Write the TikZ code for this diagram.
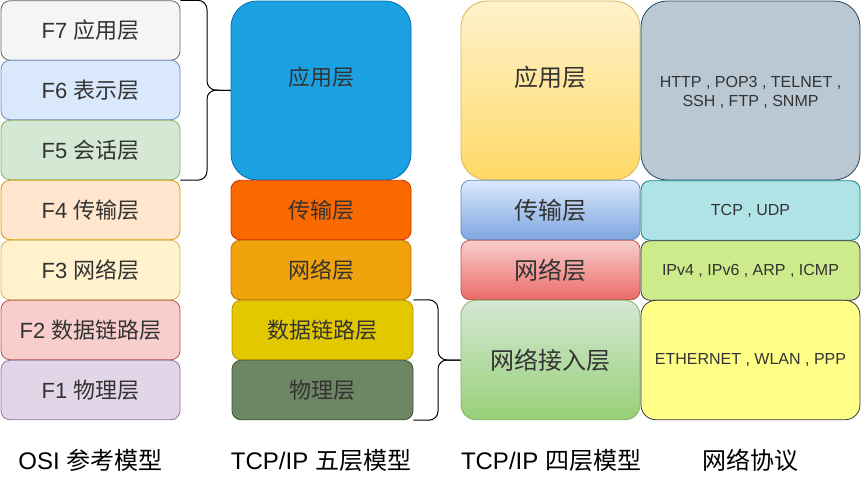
\documentclass[tikz,border=0pt]{standalone}
\usepackage{fontspec}
\setmainfont{Liberation Sans}
\newfontfamily\cjk{Noto Sans CJK SC}
\definecolor{txt}{HTML}{333333}
\definecolor{cF7}{HTML}{F5F5F5}\definecolor{sF7}{HTML}{666666}
\definecolor{cF6}{HTML}{DAE8FC}\definecolor{sF6}{HTML}{6C8EBF}
\definecolor{cF5}{HTML}{D5E8D4}\definecolor{sF5}{HTML}{82B366}
\definecolor{cF4}{HTML}{FFE6CC}\definecolor{sF4}{HTML}{D79B00}
\definecolor{cF3}{HTML}{FFF2CC}\definecolor{sF3}{HTML}{D6B656}
\definecolor{cF2}{HTML}{F8CECC}\definecolor{sF2}{HTML}{B85450}
\definecolor{cF1}{HTML}{E1D5E7}\definecolor{sF1}{HTML}{9673A6}
\definecolor{cA5}{HTML}{1BA1E2}\definecolor{sA5}{HTML}{006EAF}
\definecolor{cT5}{HTML}{FA6800}\definecolor{sT5}{HTML}{C73500}
\definecolor{cN5}{HTML}{F0A30A}\definecolor{sN5}{HTML}{BD7000}
\definecolor{cD5}{HTML}{E3C800}\definecolor{sD5}{HTML}{B09500}
\definecolor{cP5}{HTML}{6D8764}\definecolor{sP5}{HTML}{3A5431}
\definecolor{gA4}{HTML}{FFD966}
\definecolor{gT4}{HTML}{7EA6E0}
\definecolor{gN4}{HTML}{EA6B66}
\definecolor{gL4}{HTML}{97D077}
\definecolor{cAp}{HTML}{BAC8D3}\definecolor{sAp}{HTML}{23445D}
\definecolor{cTp}{HTML}{B0E3E6}\definecolor{sTp}{HTML}{0E8088}
\definecolor{cNp}{HTML}{CDEB8B}\definecolor{sNp}{HTML}{36393D}
\definecolor{cLp}{HTML}{FFFF88}
\begin{document}
\begin{tikzpicture}[x=1pt,y=-1pt,
  box/.style={draw, line width=0.8pt, inner sep=0pt, align=center, text=txt},
  osi/.style={box, minimum width=179pt, minimum height=59.5pt, rounded corners=9pt, font=\fontsize{22}{26}\selectfont},
  five/.style={box, minimum width=180pt, minimum height=59.5pt, rounded corners=9pt, font=\fontsize{22}{26}\selectfont\cjk},
  four/.style={box, minimum width=179pt, rounded corners=9pt, font=\fontsize{24}{28}\selectfont\cjk},
  proto/.style={box, minimum width=219pt, rounded corners=9pt, font=\fontsize{16}{19}\selectfont},
  inlabel/.style={inner sep=0pt, text=txt, align=center},
  label/.style={inner sep=0pt, text=black, font=\fontsize{24}{28}\selectfont},
  bracestyle/.style={draw=black, line width=1pt, rounded corners=9pt}]
\useasboundingbox (0,0) rectangle (861,477);
% OSI
\node[osi, fill=cF7, draw=sF7] (f7) at (90.5,30.5) {F7 {\cjk 应用层}};
\node[osi, fill=cF6, draw=sF6] (f6) at (90.5,90) {F6 {\cjk 表示层}};
\node[osi, fill=cF5, draw=sF5] (f5) at (90.5,150) {F5 {\cjk 会话层}};
\node[osi, fill=cF4, draw=sF4] (f4) at (90.5,210) {F4 {\cjk 传输层}};
\node[osi, fill=cF3, draw=sF3] (f3) at (90.5,270) {F3 {\cjk 网络层}};
\node[osi, fill=cF2, draw=sF2] (f2) at (90.5,330) {F2 {\cjk 数据链路层}};
\node[osi, fill=cF1, draw=sF1] (f1) at (90.5,390) {F1 {\cjk 物理层}};
% five layer
\node[five, minimum height=179pt, rounded corners=26pt, fill=cA5, draw=sA5] (a5) at (321,90.5) {};
\node[inlabel, font=\fontsize{22}{26}\selectfont\cjk] (a5t) at (321,77.5) {应用层};
\node[five, fill=cT5, draw=sT5] (t5) at (321,210) {传输层};
\node[five, fill=cN5, draw=sN5] (n5) at (321,270) {网络层};
\node[five, minimum width=181pt, fill=cD5, draw=sD5] (d5) at (322.5,330) {数据链路层};
\node[five, minimum width=181pt, fill=cP5, draw=sP5] (p5) at (322.5,390) {物理层};
% four layer
\node[four, minimum height=179pt, rounded corners=26pt, top color=cF3, bottom color=gA4, draw=sF3] (a4) at (550.5,90.5) {};
\node[inlabel, font=\fontsize{24}{28}\selectfont\cjk] (a4t) at (550.5,77) {应用层};
\node[four, minimum height=59.5pt, top color=cF6, bottom color=gT4, draw=sF6] (t4) at (550.5,210) {传输层};
\node[four, minimum height=59.5pt, top color=cF2, bottom color=gN4, draw=sF2] (n4) at (550.5,270) {网络层};
\node[four, minimum height=119.5pt, rounded corners=15pt, top color=cF5, bottom color=gL4, draw=sF5] (l4) at (550.5,360) {网络接入层};
% protocols
\node[proto, minimum height=179pt, rounded corners=26pt, fill=cAp, draw=sAp] (ap) at (750.5,90.5) {};
\node[inlabel, font=\fontsize{16}{19}\selectfont] (apt) at (750.5,92.5) {HTTP , POP3 , TELNET ,\\SSH , FTP , SNMP};
\node[proto, minimum height=59.5pt, fill=cTp, draw=sTp] (tp) at (750.5,210.5) {TCP , UDP};
\node[proto, minimum height=59.5pt, fill=cNp, draw=sNp] (np) at (750.5,270.5) {IPv4 , IPv6 , ARP , ICMP};
\node[proto, minimum height=119.5pt, rounded corners=15pt, fill=cLp, draw=sNp] (lp) at (750.5,360) {ETHERNET , WLAN , PPP};
% labels
\node[label] (l1) at (90.5,460) {OSI {\cjk 参考模型}};
\node[label] (l2) at (321,460) {TCP/IP {\cjk 五层模型}};
\node[label] (l3) at (551,460) {TCP/IP {\cjk 四层模型}};
\node[label] (l4lab) at (750.5,460) {\cjk 网络协议};
% braces
\coordinate (b1t) at (f7.north east);
\coordinate (b1b) at (f5.south east);
\coordinate (b1m) at (207,90);
\draw[bracestyle] (b1t) -| (b1m) -- (a5.west);
\draw[bracestyle] (b1b) -| (b1m) -- (a5.west);
\coordinate (b2t) at (d5.north east);
\coordinate (b2b) at (p5.south east);
\coordinate (b2m) at (438,360);
\draw[bracestyle] (b2t) -| (b2m) -- (l4.west);
\draw[bracestyle] (b2b) -| (b2m) -- (l4.west);
\end{tikzpicture}
\end{document}
